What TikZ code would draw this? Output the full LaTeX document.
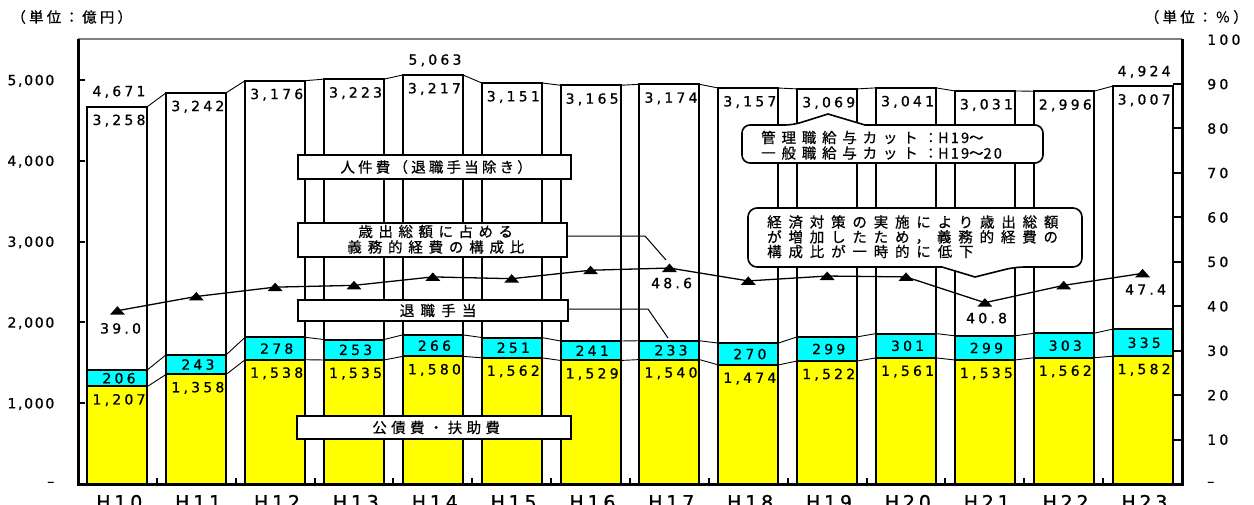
\documentclass[tikz,border=0pt]{standalone}
\usepackage{fontspec}
\newfontfamily\jpfont[FakeBold=0.6]{Noto Sans CJK JP}
\newfontfamily\numfont[FakeBold=0.9]{DejaVu Sans}
\definecolor{barYellow}{RGB}{255,255,0}
\definecolor{barCyan}{RGB}{0,255,255}
\def\thou#1#2#3#4{#1,#2#3#4}
\newcommand\spc[2]{\addfontfeature{LetterSpace=#1}\kern0.#1em\relax #2}
\tikzset{
  num/.style={font=\numfont\fontsize{14}{16}\selectfont\addfontfeature{LetterSpace=23}, inner sep=0pt, text depth=0pt, xshift=1.6pt},
  axl/.style={font=\numfont\fontsize{14}{16}\selectfont\addfontfeature{LetterSpace=12}, inner sep=0pt, text depth=0pt},
  xl/.style={font=\numfont\fontsize{19}{21}\selectfont\addfontfeature{LetterSpace=20}, inner sep=0pt, anchor=base, xshift=1.9pt},
  jp/.style={font=\jpfont\fontsize{14.5}{16}\selectfont, inner sep=0pt},
  seg/.style={draw=black, line width=2pt},
  lgbox/.style={draw=black, line width=2.4pt, fill=white, inner sep=0pt},
  lead/.style={line width=1pt},
  callout/.style={draw=black, line width=1.6pt, fill=white},
}
\begin{document}
\begin{tikzpicture}[x=1pt,y=-1pt]
\useasboundingbox (0,0) rectangle (1254,504);
\fill[white] (0,0) rectangle (1254,504);

% top border
\draw[black!50, line width=1.5pt] (78,39) -- (1182,39);

% bars
\foreach \ii/\va/\vb/\vc/\vr/\nm in {
  0/1207/206/3258/39.0/H10, 1/1358/243/3242/42.2/H11, 2/1538/278/3176/44.3/H12,
  3/1535/253/3223/44.7/H13, 4/1580/266/3217/46.6/H14, 5/1562/251/3151/46.2/H15,
  6/1529/241/3165/48.1/H16, 7/1540/233/3174/48.6/H17, 8/1474/270/3157/45.7/H18,
  9/1522/299/3069/46.8/H19, 10/1561/301/3041/46.6/H20, 11/1535/299/3031/40.8/H21,
  12/1562/303/2996/44.7/H22, 13/1582/335/3007/47.4/H23}{
  \pgfmathsetmacro\cx{78+78.857*(\ii+0.5)}
  \pgfmathsetmacro\ya{484-\va*0.0808}
  \pgfmathsetmacro\yb{484-(\va+\vb)*0.0808}
  \pgfmathsetmacro\yc{484-(\va+\vb+\vc)*0.0808}
  \pgfmathsetmacro\yr{484-\vr*4.444}
  \filldraw[seg, fill=barYellow] ({\cx-30},484) rectangle ({\cx+30},\ya);
  \filldraw[seg, fill=barCyan] ({\cx-30},\ya) rectangle ({\cx+30},\yb);
  \filldraw[seg, fill=white] ({\cx-30},\yb) rectangle ({\cx+30},\yc);
  \coordinate (aL\ii) at ({\cx-30},\ya);
  \coordinate (aR\ii) at ({\cx+30},\ya);
  \coordinate (bL\ii) at ({\cx-30},\yb);
  \coordinate (bR\ii) at ({\cx+30},\yb);
  \coordinate (cL\ii) at ({\cx-30},\yc);
  \coordinate (cR\ii) at ({\cx+30},\yc);
  \coordinate (r\ii) at (\cx,\yr);
  \node[num] (la\ii) at (\cx,{\ya+12.8}) {\expandafter\thou\va};
  \node[num] (lb\ii) at (\cx,{(\ya+\yb)/2}) {\vb};
  \node[num] (lc\ii) at (\cx,{\yc+13.2}) {\expandafter\thou\vc};
  \node[xl] (x\ii) at (\cx,509) {\nm};
}

% series lines
\foreach \ii [evaluate=\ii as \jj using int(\ii+1)] in {0,...,12}{
  \draw[line width=0.9pt] (aR\ii) -- (aL\jj);
  \draw[line width=0.9pt] (bR\ii) -- (bL\jj);
  \draw[line width=0.9pt] (cR\ii) -- (cL\jj);
}

% totals
\node[num] (t0) at (117.4,91) {4,671};
\node[num] (t4) at (433.4,59.5) {5,063};
\node[num] (t13) at (1142.6,71) {4,924};

% ratio line
\draw[line width=1.3pt] (r0) \foreach \ii in {1,...,13}{ -- (r\ii)};
\foreach \ii in {0,...,13}{
  \fill (r\ii) ++(-7.5,4) -- ++(15,0) -- ++(-7.5,-8.5) -- cycle;
}
\node[num] (p0) at (119,328.3) {39.0};
\node[num] (p7) at (670,283) {48.6};
\node[num] (p11) at (985,318) {40.8};
\node[num] (p13) at (1144,289.5) {47.4};

% axes
\draw[line width=3pt] (78,39) -- (78,485.5);
\draw[line width=3pt] (1182,39) -- (1182,485.5);
\draw[line width=3pt] (76.5,484) -- (1183.5,484);
\foreach \v in {1,...,5}{
  \draw[line width=2pt] (78,{484-\v*80.8}) -- (85,{484-\v*80.8});
  \node[axl, anchor=east] (yl\v) at (54.5,{484-\v*80.8}) {\v,000};
}
\node[axl, anchor=east] (yl0) at (54.5,484) {–};
\foreach \v in {10,20,...,90}{
  \draw[line width=2pt] (1173,{484-\v*4.444}) -- (1182,{484-\v*4.444});
}
\foreach \v in {10,20,...,100}{
  \node[num, anchor=west, xshift=0pt] (yr\v) at (1205.5,{484-\v*4.444}) {\v};
}
\node[num, anchor=west, xshift=0pt] (yr0) at (1205.5,484) {–};
\foreach \k in {1,...,13}{
  \draw[line width=2pt] ({78+78.857*\k},484) -- ({78+78.857*\k},478);
}

% units
\node[jp, anchor=west] (u1) at (8,17) {\spc{22}{（単位：億円）}};
\node[jp, anchor=east] (u2) at (1248,17) {\spc{22}{（単位：％）}};

% legend boxes
\node[lgbox, minimum width=273pt, minimum height=24pt] (lg1) at (434.5,167) {};
\node[jp] (lg1t) at (lg1) {\spc{22}{人件費（退職手当除き）}};
\node[lgbox, minimum width=269pt, minimum height=34pt] (lg2) at (432.5,240) {};
\node[jp] (lg2a) at (433,231.5) {\spc{38}{歳出総額に占める}};
\node[jp] (lg2b) at (433,247) {\spc{40}{義務的経費の構成比}};
\node[lgbox, minimum width=270pt, minimum height=21pt] (lg3) at (433,310.5) {};
\node[jp] (lg3t) at (435,310.5) {\spc{43}{退職手当}};
\node[lgbox, minimum width=274pt, minimum height=23pt] (lg4) at (434,427.5) {};
\node[jp] (lg4t) at (lg4) {\spc{30}{公債費・扶助費}};

% leaders
\coordinate (k1) at (645,236);
\coordinate (k2) at (666,260);
\draw[lead] ([yshift=4pt]lg2.east) -- (k1) -- (k2);
\coordinate (k3) at (648,309);
\coordinate (k4) at (668,338);
\draw[lead] ([yshift=1.5pt]lg3.east) -- (k3) -- (k4);

% callout 1
\draw[callout] (742,144) [rounded corners=8pt] -- (742,125) -- (793,125) [sharp corners] -- (828,114) -- (865,125) [rounded corners=8pt] -- (1043,125) -- (1043,163) -- (742,163) -- (742,144);
\node[jp, anchor=west] (c1a) at (761,137.5) {\addfontfeature{LetterSpace=40}管理職給与カット：{\addfontfeature{LetterSpace=15}H19}〜};
\node[jp, anchor=west] (c1b) at (761,153) {\addfontfeature{LetterSpace=40}一般職給与カット：{\addfontfeature{LetterSpace=15}H19}〜{\addfontfeature{LetterSpace=15}20}};

% callout 2
\draw[callout] (748,240) [rounded corners=9pt] -- (748,208) -- (1082,208) -- (1082,267) -- (1015,267) [sharp corners] -- (975,277) -- (942,267) [rounded corners=9pt] -- (748,267) -- (748,240);
\node[jp, anchor=west] (c2a) at (767,222) {\addfontfeature{LetterSpace=47}経済対策の実施により歳出総額};
\node[jp, anchor=west] (c2b) at (767,237) {\addfontfeature{LetterSpace=47}が増加したため，義務的経費の};
\node[jp, anchor=west] (c2c) at (767,251.5) {\addfontfeature{LetterSpace=47}構成比が一時的に低下};
\end{tikzpicture}
\end{document}
